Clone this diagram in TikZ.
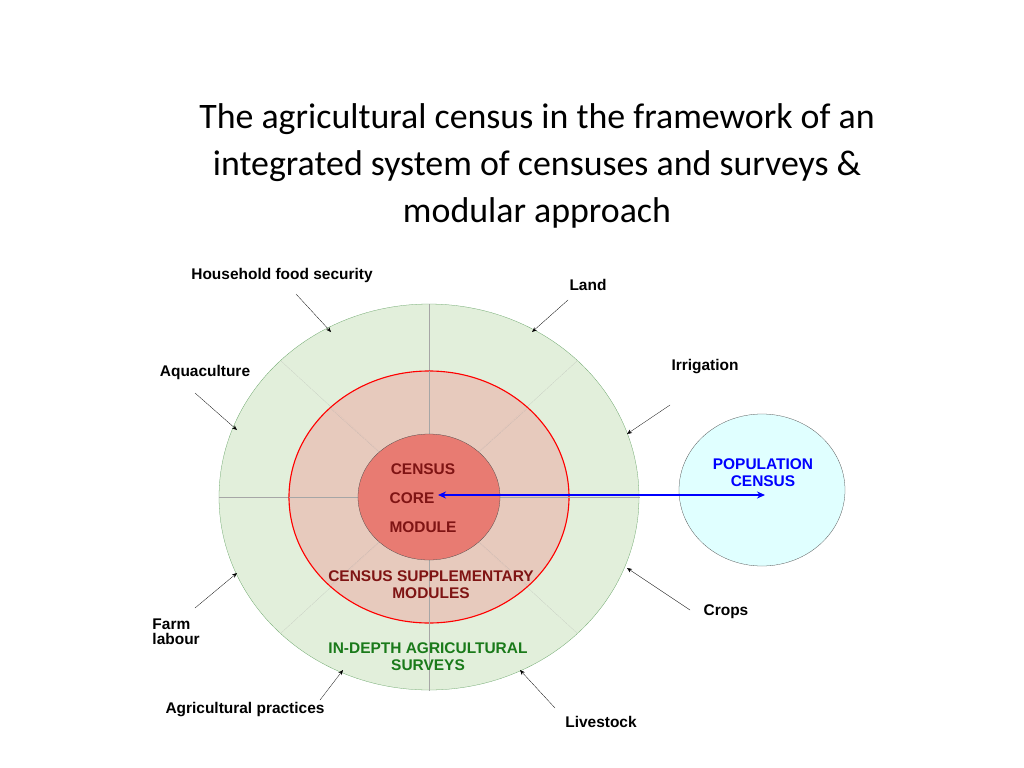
\documentclass[tikz,border=0pt]{standalone}
\usepackage{fontspec}
\setmainfont{Liberation Sans}
\newfontfamily\titlefont{Carlito}
\usetikzlibrary{arrows.meta,positioning}
\definecolor{ringgreen}{HTML}{E2EFDB}
\definecolor{ringred}{HTML}{E8C4B8}
\definecolor{corered}{HTML}{E87B72}
\definecolor{popcyan}{HTML}{E0FFFF}
\definecolor{darkred}{HTML}{7F1414}
\definecolor{surveygreen}{HTML}{1A7A1A}
\tikzset{>={Stealth[length=2.5mm]}}

\begin{document}
\begin{tikzpicture}[x=0.5mm, y=-0.5mm,
  lbl/.style={font=\fontsize{22}{26}\selectfont\bfseries, align=left},
  ring/.style={font=\fontsize{22}{28}\selectfont\bfseries, align=center},
  pointer/.style={->, >={Stealth[length=2.5mm,width=2mm]}, thin}]
  \useasboundingbox (0,0) rectangle (1024,768);

  % Title
  \node[font=\titlefont\fontsize{51}{67}\selectfont, align=center] (title) at (537,166)
    {The agricultural census in the framework of an\\integrated system of censuses and surveys \&\\modular approach};

  % Rings
  \draw[green!40!black!60, fill=ringgreen] (429,497) ellipse [x radius=210, y radius=193];
  \coordinate (c) at (429,497);
  \foreach \a in {0,45,...,315}
    \draw[gray!70, densely dotted] (c) -- ++(\a:210 and 193);
  \draw[red, line width=1.6pt, fill=ringred, fill opacity=0.85] (c) ellipse [x radius=140, y radius=126];
  \foreach \a in {0,45,...,315}
    \draw[gray!70, densely dotted] (c) -- ++(\a:140 and 126);
  \draw[black!70, fill=corered] (c) ellipse [x radius=71, y radius=63];
  \draw[black!70, fill=popcyan] (762,490) ellipse [x radius=83, y radius=76];

  % Ring texts
  \node[ring, text=darkred] (census) at (423,469) {CENSUS};
  \node[ring, text=darkred] (core) at (412,498) {CORE};
  \node[ring, text=darkred] (module) at (423,527) {MODULE};
  \node[ring, text=darkred] (supp) at (431,585) {CENSUS SUPPLEMENTARY\\[-4pt]MODULES};
  \node[ring, text=surveygreen] (indepth) at (428,657) {IN-DEPTH AGRICULTURAL\\[-4pt]SURVEYS};
  \node[ring, text=blue] (pop) at (763,473) {POPULATION\\[-4pt]CENSUS};

  % Link
  \coordinate (l1) at (438,495);
  \coordinate (l2) at (765,495);
  \draw[<->, blue, line width=2pt, >={Stealth[length=4mm,width=3.5mm]}] (l1) -- (l2);

  % Surrounding labels
  \node[lbl] (food) at (282,275) {Household food security};
  \node[lbl] (land) at (588,285) {Land};
  \node[lbl] (irr) at (705,367) {Irrigation};
  \node[lbl] (aqua) at (205,372) {Aquaculture};
  \node[lbl] (crops) at (726,612) {Crops};
  \node[lbl, anchor=west] (farm) at (150,632) {Farm\\[-4pt]labour};
  \node[lbl] (pract) at (245,710) {Agricultural practices};
  \node[lbl] (live) at (601,722) {Livestock};

  % Pointers
  \coordinate (pfood) at (331,332);
  \coordinate (pland) at (532,332);
  \coordinate (pirr) at (627,434);
  \coordinate (paqua) at (237,430);
  \coordinate (pcrops) at (627,568);
  \coordinate (pfarm) at (237,573);
  \coordinate (ppract) at (343,670);
  \coordinate (plive) at (520,670);
  \draw[pointer] (296,294) -- (pfood);
  \draw[pointer] (568,300) -- (pland);
  \draw[pointer] (670,405) -- (pirr);
  \draw[pointer] (195,393) -- (paqua);
  \draw[pointer] (690,610) -- (pcrops);
  \draw[pointer] (195,608) -- (pfarm);
  \draw[pointer] (320,700) -- (ppract);
  \draw[pointer] (555,708) -- (plive);
\end{tikzpicture}
\end{document}
